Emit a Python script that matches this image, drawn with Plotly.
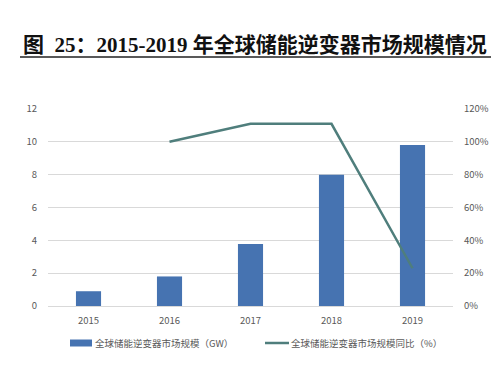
import plotly.graph_objects as go

years = ["2015", "2016", "2017", "2018", "2019"]
capacity_gw = [0.9, 1.8, 3.78, 8.0, 9.8]
yoy_years = ["2016", "2017", "2018", "2019"]
yoy_pct = [1.00, 1.11, 1.11, 0.23]

bar_name = "全球储能逆变器市场规模（GW）"
line_name = "全球储能逆变器市场规模同比（%）"
title_text = "图  25：2015-2019 年全球储能逆变器市场规模情况"

# page body has an 8px default margin; size the figure so it fits the window
OFF = 8
W, H = 499 - OFF, 366 - OFF
ml, mr, mt, mb = 48 - OFF, 46, 109 - OFF, 60
PW, PH = W - ml - mr, H - mt - mb

BAR_COLOR = "#4673B1"
LINE_COLOR = "#4F7E7C"


def px(x):
    return (x - OFF - ml) / PW


def py(y):
    return 1 - (y - OFF - mt) / PH


fig = go.Figure()
fig.add_trace(go.Bar(x=years, y=capacity_gw, name=bar_name,
                     marker=dict(color=BAR_COLOR, line=dict(width=0)), width=0.31))
fig.add_trace(go.Scatter(x=yoy_years, y=yoy_pct, name=line_name, yaxis="y2",
                         mode="lines", line=dict(color=LINE_COLOR, width=2.5)))

tickfont = dict(family="Noto Sans CJK SC, sans-serif", size=9.5, color="#595959")
fig.update_layout(
    width=W, height=H,
    margin=dict(l=ml, r=mr, t=mt, b=mb, pad=0, autoexpand=False),
    paper_bgcolor="white", plot_bgcolor="white",
    showlegend=False,
    xaxis=dict(type="category", showgrid=False, tickfont=tickfont, ticks="",
               showline=True, linecolor="#D9D9D9", linewidth=1, ticklabelstandoff=6),
    yaxis=dict(range=[0, 12], dtick=2, showgrid=True, gridcolor="#D9D9D9", gridwidth=1,
               tickfont=tickfont, zeroline=False, ticks="", ticklabelstandoff=10),
    yaxis2=dict(range=[0, 1.2], dtick=0.2, tickformat=".0%", overlaying="y", side="right",
                showgrid=False, tickfont=tickfont, zeroline=False, ticks="", ticklabelstandoff=10),
)

# title and underline
fig.add_annotation(text="<b>" + title_text + "</b>", xref="paper", yref="paper",
                   x=px(21), xanchor="left", y=py(45), yanchor="middle", showarrow=False,
                   font=dict(family="Liberation Serif, Noto Sans CJK SC, serif", size=21, color="#111111"))
fig.add_shape(type="line", xref="paper", yref="paper", x0=px(20), x1=px(495),
              y0=py(57), y1=py(57), line=dict(color="#222222", width=1.5))

# custom legend
legfont = dict(family="Noto Sans CJK SC, sans-serif", size=9.5, color="#595959")
fig.add_shape(type="rect", xref="paper", yref="paper", x0=px(70), x1=px(92),
              y0=py(346.5), y1=py(339.5), line=dict(width=0), fillcolor=BAR_COLOR)
fig.add_annotation(text=bar_name, xref="paper", yref="paper", x=px(93), xanchor="left",
                   y=py(343), yanchor="middle", showarrow=False, font=legfont)
fig.add_shape(type="line", xref="paper", yref="paper", x0=px(265), x1=px(289),
              y0=py(343), y1=py(343), line=dict(color=LINE_COLOR, width=2.5))
fig.add_annotation(text=line_name, xref="paper", yref="paper", x=px(289), xanchor="left",
                   y=py(343), yanchor="middle", showarrow=False, font=legfont)

fig.write_html("out.html")
